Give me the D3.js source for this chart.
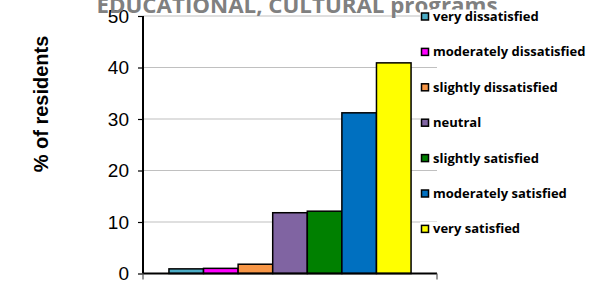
<!DOCTYPE html>
<html>
<head>
<meta charset="utf-8">
<script src="https://cdn.jsdelivr.net/npm/d3@7"></script>
<style>
  body { margin: 0; background: #fff; }
  svg { display: block; }
</style>
</head>
<body>
<div id="chart"></div>
<script>
// data
var categories = ["very dissatisfied", "moderately dissatisfied", "slightly dissatisfied",
  "neutral", "slightly satisfied", "moderately satisfied", "very satisfied"];
var values = [0.9, 1.0, 1.8, 11.8, 12.1, 31.2, 40.9];
var colors = ["#4bacc6", "#ff00ff", "#f79646", "#8064a2", "#008000", "#0070c0", "#ffff00"];
var yTicks = [0, 10, 20, 30, 40, 50];
var title = "EDUCATIONAL, CULTURAL programs";
var yLabel = "% of residents";

var width = 592, height = 282;
var plot = { left: 143, right: 437, top: 16, bottom: 273.5 };

var svg = d3.select("#chart").append("svg")
  .attr("width", width)
  .attr("height", height);

var x = d3.scaleBand()
  .domain(categories)
  .range([plot.left, plot.right])
  .paddingInner(0)
  .paddingOuter(0.75);

var y = d3.scaleLinear()
  .domain([0, 50])
  .range([plot.bottom, plot.top]);

// grid lines
svg.append("g")
  .selectAll("line")
  .data(yTicks.filter(function (d) { return d > 0; }))
  .enter()
  .append("line")
  .attr("x1", plot.left)
  .attr("x2", plot.right)
  .attr("y1", function (d) { return y(d); })
  .attr("y2", function (d) { return y(d); })
  .attr("stroke", "#c0c0c0")
  .attr("stroke-width", 1.2);

// bars
svg.append("g")
  .selectAll("rect")
  .data(categories)
  .enter()
  .append("rect")
  .attr("x", function (d) { return x(d); })
  .attr("y", function (d, i) { return y(values[i]); })
  .attr("width", x.bandwidth())
  .attr("height", function (d, i) { return y(0) - y(values[i]); })
  .attr("fill", function (d, i) { return colors[i]; })
  .attr("stroke", "#000")
  .attr("stroke-width", 1.5);

// y axis
var yAxis = svg.append("g")
  .attr("transform", "translate(" + plot.left + ",0)")
  .call(d3.axisLeft(y).tickValues(yTicks).tickSize(5).tickPadding(9));
yAxis.select(".domain").attr("stroke", "#000").attr("stroke-width", 2)
  .attr("d", "M0," + plot.top + "V" + plot.bottom);
yAxis.selectAll(".tick line").attr("stroke", "#000").attr("stroke-width", 1.2);
yAxis.selectAll(".tick text")
  .style("font-family", "Arial, 'Liberation Sans', sans-serif")
  .style("font-size", "19px")
  .attr("fill", "#000");

// x axis line with end ticks
var xAxis = svg.append("g");
xAxis.append("line")
  .attr("x1", plot.left).attr("x2", plot.right)
  .attr("y1", y(0)).attr("y2", y(0))
  .attr("stroke", "#000").attr("stroke-width", 2);
xAxis.selectAll(".end")
  .data([plot.left, plot.right])
  .enter()
  .append("line")
  .attr("class", "end")
  .attr("x1", function (d) { return d; })
  .attr("x2", function (d) { return d; })
  .attr("y1", y(0))
  .attr("y2", y(0) + 6)
  .attr("stroke", "#555")
  .attr("stroke-width", 1.2);

// title (cut off at the top)
svg.append("text")
  .attr("x", 297)
  .attr("y", 13)
  .attr("text-anchor", "middle")
  .attr("textLength", 401)
  .attr("lengthAdjust", "spacingAndGlyphs")
  .style("font-family", "'Open Sans', sans-serif")
  .style("font-weight", "bold")
  .style("font-size", "21px")
  .attr("fill", "#808080")
  .text(title);

// y label
svg.append("text")
  .attr("transform", "translate(48,104) rotate(-90)")
  .attr("text-anchor", "middle")
  .style("font-family", "Arial, 'Liberation Sans', sans-serif")
  .style("font-weight", "bold")
  .style("font-size", "20px")
  .attr("fill", "#000")
  .text(yLabel);

// legend
var legend = svg.append("g");
var item = legend.selectAll(".item")
  .data(categories)
  .enter()
  .append("g")
  .attr("class", "item")
  .attr("transform", function (d, i) { return "translate(420," + (16.5 + i * 35.4) + ")"; });

item.append("rect")
  .attr("x", 0).attr("y", -7)
  .attr("width", 172).attr("height", 14)
  .attr("fill", "#fff");

item.append("rect")
  .attr("x", 1.5).attr("y", -3.5)
  .attr("width", 7).attr("height", 7)
  .attr("fill", function (d, i) { return colors[i]; })
  .attr("stroke", "#000")
  .attr("stroke-width", 1.5);

item.append("text")
  .attr("x", 13)
  .attr("y", 0)
  .attr("dy", "0.35em")
  .style("font-family", "'Open Sans', sans-serif")
  .style("font-weight", "bold")
  .style("font-size", "13px")
  .attr("fill", "#000")
  .text(function (d) { return d; });
</script>
</body>
</html>
